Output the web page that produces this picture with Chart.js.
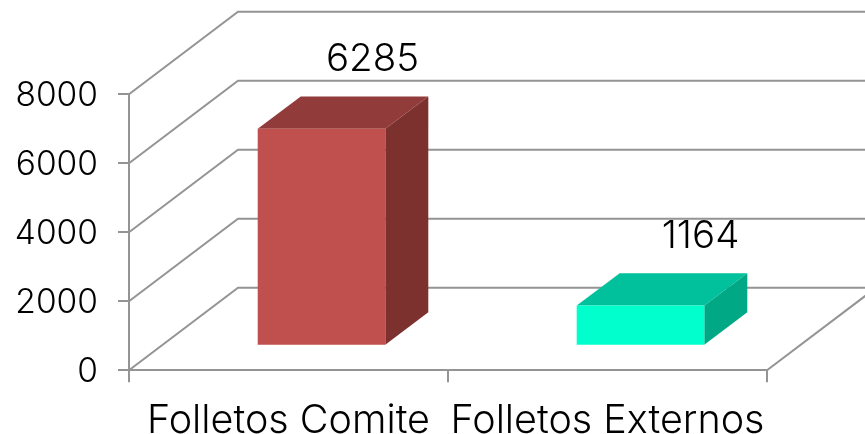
<!DOCTYPE html>
<html><head><meta charset="utf-8">
<style>html,body{margin:0;padding:0;background:#fff}canvas{display:block}</style>
<script src="https://cdn.jsdelivr.net/npm/chart.js@4"></script>
</head><body><canvas id="c" width="865" height="434"></canvas>
<script>
const categories = ["Folletos Comite", "Folletos Externos"];
const values = [6285, 1164];
const yMax = 8000;
const yStep = 2000;
const frontColors = ["#C0504D", "#00FFCC"];
const topColors = ["#913C3A", "#00C19B"];
const sideColors = ["#7C312F", "#00A885"];

const FONT = '"Inter", sans-serif';
const GRID = "#949494";
const LINE = 2;
const WALL = {dx: 109, dy: -82.5};
const BAR = {dx: 43, dy: -32.4, fx: 33, fy: -24.6};
const LABEL_SHIFT = [51, 60];

const depth3d = {
  id: "depth3d",
  beforeDatasetsDraw(chart) {
    const {ctx, chartArea: a, scales: {y}} = chart;
    ctx.save();
    ctx.strokeStyle = GRID; ctx.lineWidth = LINE;
    y.ticks.forEach(t => {
      const py = y.getPixelForValue(t.value);
      ctx.beginPath();
      ctx.moveTo(a.left, py);
      ctx.lineTo(a.left + WALL.dx, py + WALL.dy);
      ctx.lineTo(chart.width + 2, py + WALL.dy);
      ctx.stroke();
    });
    const by = y.getPixelForValue(0);
    ctx.beginPath();
    ctx.moveTo(a.right, by);
    ctx.lineTo(a.right + WALL.dx, by + WALL.dy);
    ctx.stroke();
    ctx.restore();
    ctx.save();
    ctx.translate(BAR.fx, BAR.fy);
    const meta = chart.getDatasetMeta(0);
    meta.data.forEach((el, i) => {
      const l = el.x - el.width / 2, r = el.x + el.width / 2, t = el.y, b = el.base;
      ctx.fillStyle = topColors[i];
      ctx.beginPath();
      ctx.moveTo(l, t); ctx.lineTo(l + BAR.dx, t + BAR.dy);
      ctx.lineTo(r + BAR.dx, t + BAR.dy); ctx.lineTo(r, t);
      ctx.closePath(); ctx.fill();
      ctx.fillStyle = sideColors[i];
      ctx.beginPath();
      ctx.moveTo(r, t); ctx.lineTo(r + BAR.dx, t + BAR.dy);
      ctx.lineTo(r + BAR.dx, b + BAR.dy); ctx.lineTo(r, b);
      ctx.closePath(); ctx.fill();
    });
  },
  afterDatasetsDraw(chart) {
    const {ctx} = chart;
    ctx.restore();
    ctx.save();
    ctx.fillStyle = "#000";
    ctx.font = "300 38.5px " + FONT;
    ctx.textAlign = "center"; ctx.textBaseline = "alphabetic";
    chart.getDatasetMeta(0).data.forEach((el, i) => {
      ctx.fillText(String(values[i]), el.x + BAR.fx + LABEL_SHIFT[i], el.y + BAR.fy - 57.8);
    });
    ctx.restore();
  }
};

new Chart(document.getElementById("c"), {
  type: "bar",
  data: {labels: categories, datasets: [{
    data: values, backgroundColor: frontColors, borderWidth: 0,
    barPercentage: 1, categoryPercentage: 0.4
  }]},
  options: {
    responsive: false, animation: false,
    layout: {padding: {top: 94.3, right: 98, left: 0, bottom: 0}},
    plugins: {legend: {display: false}, tooltip: {enabled: false}},
    scales: {
      x: {
        grid: {drawOnChartArea: false, color: GRID, lineWidth: LINE, tickLength: 12, offset: true},
        border: {color: GRID, width: LINE},
        ticks: {color: "#000", font: {family: FONT, size: 39.5, weight: 300}, padding: 15, maxRotation: 0, autoSkip: false},
        afterFit(s) { s.height = 434 - 370.3; }
      },
      y: {
        min: 0, max: yMax,
        grid: {drawOnChartArea: false, color: GRID, lineWidth: LINE, tickLength: 11},
        border: {color: GRID, width: LINE},
        ticks: {stepSize: yStep, color: "#000", font: {family: FONT, size: 33.5, weight: 300}, padding: 20, labelOffset: 2,
          callback: v => String(v)},
        afterFit(s) { s.width = 129; }
      }
    }
  },
  plugins: [depth3d]
});
</script></body></html>
